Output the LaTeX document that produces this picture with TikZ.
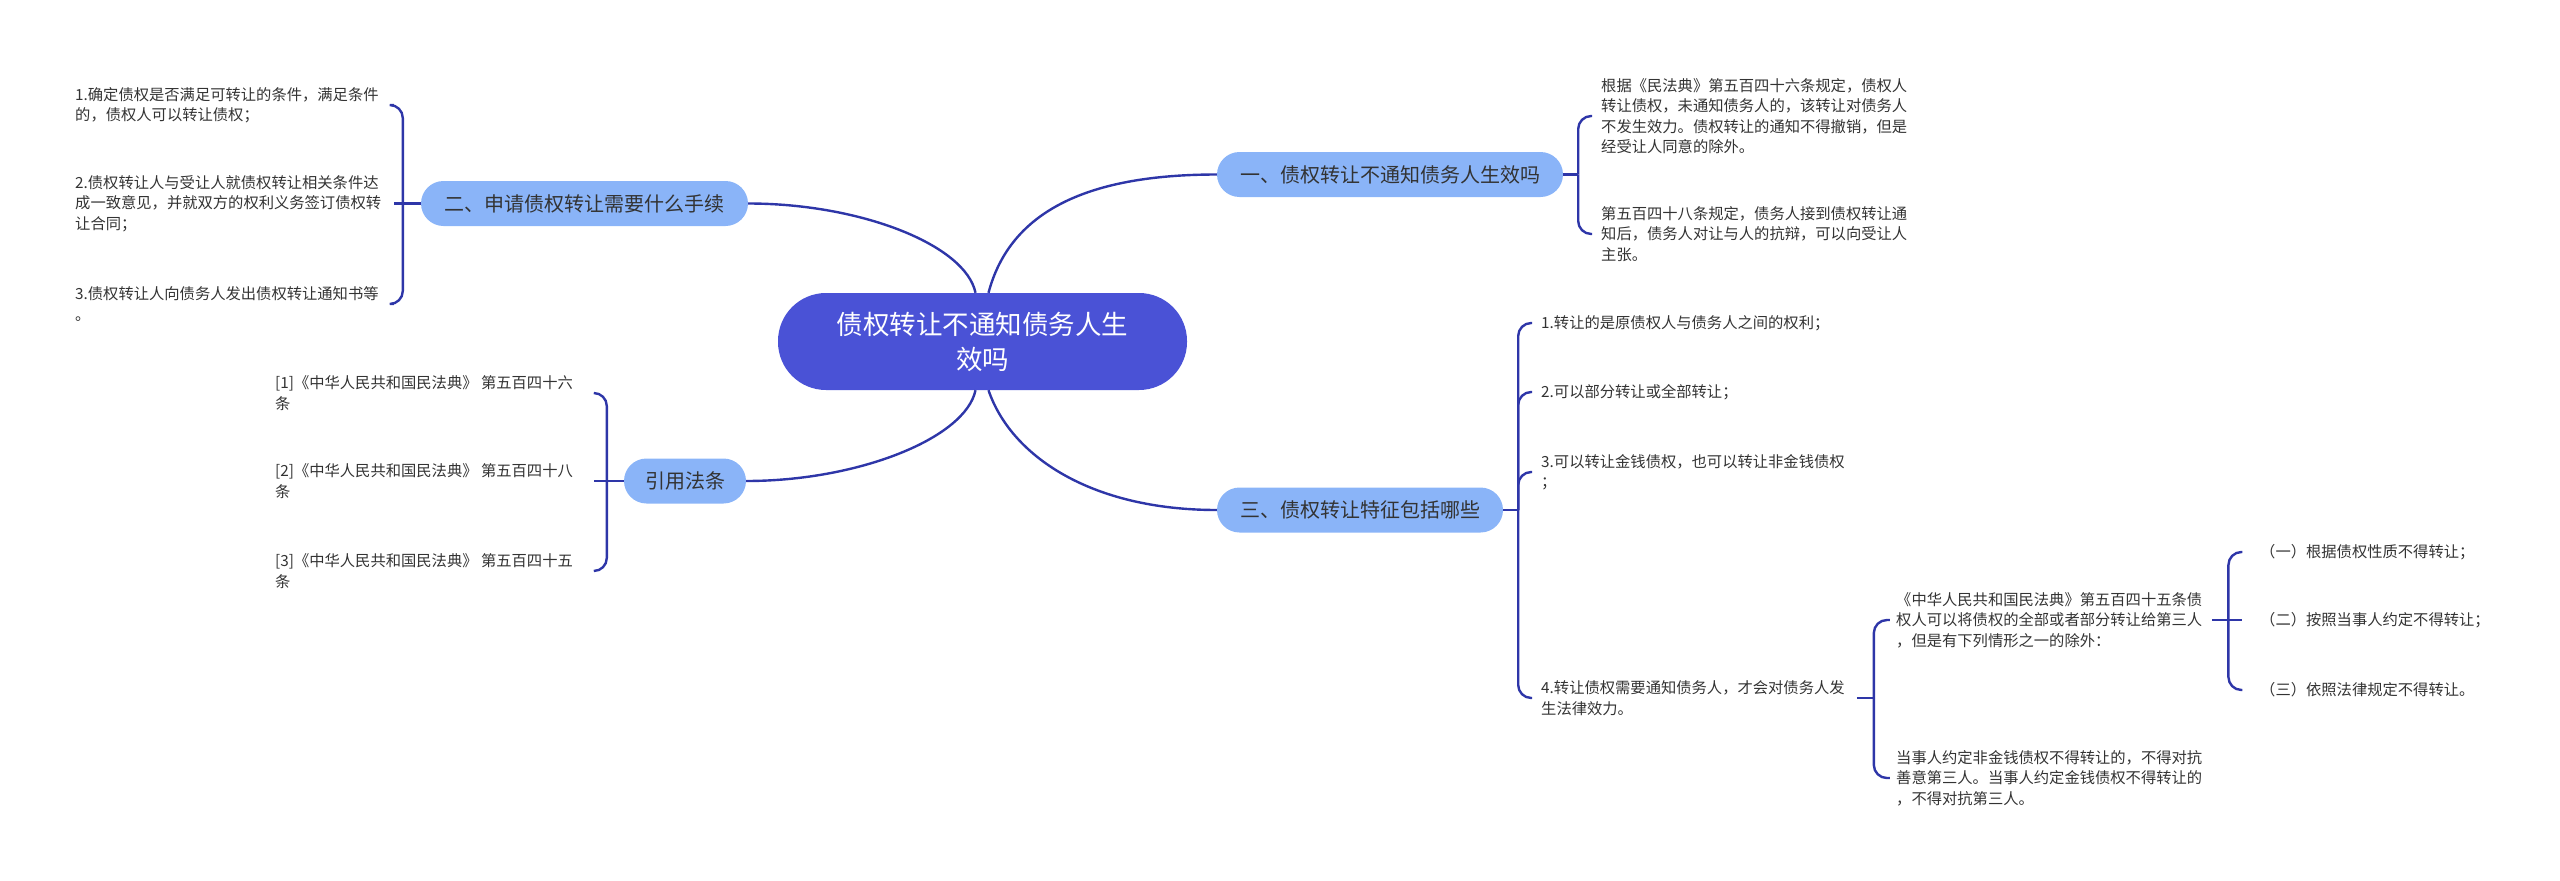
\documentclass[tikz,border=0pt]{standalone}
\usepackage{fontspec}
\newfontfamily\cjk{Noto Sans CJK SC}
\usetikzlibrary{calc}
\definecolor{ctrfill}{HTML}{4A52D6}
\definecolor{brfill}{HTML}{8AB4F8}
\definecolor{linec}{HTML}{2E36A8}
\definecolor{txt}{HTML}{333333}
\tikzset{
 ctrnode/.style={fill=ctrfill, rounded corners=48pt, minimum width=409pt, minimum height=97pt, text=white, align=center, font=\cjk\fontsize{26.5}{35}\selectfont, inner sep=0pt},
 brnode/.style={fill=brfill, rounded corners=22.5pt, minimum height=45pt, text=txt, font=\cjk\fontsize{20}{24}\selectfont, inner sep=0pt},
 leaf/.style={anchor=west, align=left, inner sep=0pt, text=txt, font=\cjk\fontsize{15.3}{20.5}\selectfont},
 conn/.style={draw=linec, line width=2.4pt},
 brk/.style={conn, rounded corners=13pt}
}
\begin{document}
\begin{tikzpicture}[x=1pt,y=-1pt]
\useasboundingbox (0,0) rectangle (2560,881);

% center and branches
\node[ctrnode] (ctr) at (982.5,341.5) {债权转让不通知债务人生\\效吗};
\node[brnode, minimum width=346pt] (b1) at (1390,174.5) {一、债权转让不通知债务人生效吗};
\node[brnode, minimum width=327pt] (b2) at (584.5,203.5) {二、申请债权转让需要什么手续};
\node[brnode, minimum width=122pt] (b3) at (685,481) {引用法条};
\node[brnode, minimum width=286pt] (b4) at (1360,510) {三、债权转让特征包括哪些};

% leaves of b1
\node[leaf] (c1a) at (1601,116) {根据《民法典》第五百四十六条规定，债权人\\转让债权，未通知债务人的，该转让对债务人\\不发生效力。债权转让的通知不得撤销，但是\\经受让人同意的除外。};
\node[leaf] (c1b) at (1601,234) {第五百四十八条规定，债务人接到债权转让通\\知后，债务人对让与人的抗辩，可以向受让人\\主张。};

% leaves of b2
\node[leaf] (c2a) at (75,105) {1.确定债权是否满足可转让的条件，满足条件\\的，债权人可以转让债权；};
\node[leaf] (c2b) at (75,203.5) {2.债权转让人与受让人就债权转让相关条件达\\成一致意见，并就双方的权利义务签订债权转\\让合同；};
\node[leaf] (c2c) at (75,304) {3.债权转让人向债务人发出债权转让通知书等\\。};

% leaves of b3
\node[leaf] (c3a) at (275,393) {[1]《中华人民共和国民法典》 第五百四十六\\条};
\node[leaf] (c3b) at (275,481) {[2]《中华人民共和国民法典》 第五百四十八\\条};
\node[leaf] (c3c) at (275,571) {[3]《中华人民共和国民法典》 第五百四十五\\条};

% leaves of b4
\node[leaf] (c4a) at (1541,323) {1.转让的是原债权人与债务人之间的权利；};
\node[leaf] (c4b) at (1541,392) {2.可以部分转让或全部转让；};
\node[leaf] (c4c) at (1541,472) {3.可以转让金钱债权，也可以转让非金钱债权\\；};
\node[leaf] (c4d) at (1541,698) {4.转让债权需要通知债务人，才会对债务人发\\生法律效力。};

% children of c4d
\node[leaf] (d1) at (1896,620) {《中华人民共和国民法典》第五百四十五条债\\权人可以将债权的全部或者部分转让给第三人\\，但是有下列情形之一的除外：};
\node[leaf] (d2) at (1896,778) {当事人约定非金钱债权不得转让的，不得对抗\\善意第三人。当事人约定金钱债权不得转让的\\，不得对抗第三人。};

% children of d1
\node[leaf] (e1) at (2260,552) {（一）根据债权性质不得转让；};
\node[leaf] (e2) at (2260,620) {（二）按照当事人约定不得转让；};
\node[leaf] (e3) at (2260,690) {（三）依照法律规定不得转让。};

% center connectors
\draw[conn] ([xshift=6pt]ctr.north) .. controls ($([xshift=6pt]ctr.north)+(22,-83)$) and ($(b1.west)+(-127,0)$) .. (b1.west);
\draw[conn] ([xshift=-7pt]ctr.north) .. controls ($([xshift=-7pt]ctr.north)+(-10,-48)$) and ($(b2.east)+(112,0)$) .. (b2.east);
\draw[conn] ([xshift=-7pt]ctr.south) .. controls ($([xshift=-7pt]ctr.south)+(-10,48)$) and ($(b3.east)+(112,0)$) .. (b3.east);
\draw[conn] ([xshift=6pt]ctr.south) .. controls ($([xshift=6pt]ctr.south)+(22,65)$) and ($(b4.west)+(-127,0)$) .. (b4.west);

% bracket b1
\coordinate (b1j) at ($(b1.east)+(15,0)$);
\coordinate (b1e) at ($(b1.east)+(29,0)$);
\draw[conn] (b1.east) -- (b1j);
\draw[brk] (b1j) |- (c1a.west -| b1e);
\draw[brk] (b1j) |- (c1b.west -| b1e);

% bracket b2
\coordinate (b2j) at ($(b2.west)+(-18,0)$);
\coordinate (b2e) at ($(b2.west)+(-27,0)$);
\draw[conn] (b2.west) -- (c2b.east -| b2e);
\draw[brk] (b2j) |- (c2a.east -| b2e);
\draw[brk] (b2j) |- (c2c.east -| b2e);

% bracket b3
\coordinate (b3j) at ($(b3.west)+(-17,0)$);
\coordinate (b3e) at ($(b3.west)+(-30,0)$);
\draw[conn] (b3.west) -- (c3b.east -| b3e);
\draw[brk] (b3j) |- (c3a.east -| b3e);
\draw[brk] (b3j) |- (c3c.east -| b3e);

% bracket b4
\coordinate (b4j) at ($(b4.east)+(15,0)$);
\coordinate (b4e) at ($(b4.east)+(29,0)$);
\draw[conn] (b4.east) -- (b4j);
\draw[brk] (b4j) |- (c4a.west -| b4e);
\draw[brk] (b4j) |- (c4b.west -| b4e);
\draw[brk] (b4j) |- (c4c.west -| b4e);
\draw[brk] (b4j) |- (c4d.west -| b4e);

% bracket c4d
\coordinate (c4ds) at ($(c4d.east)+(12,0)$);
\coordinate (c4dj) at ($(c4d.east)+(29,0)$);
\coordinate (c4de) at ($(c4d.east)+(45,0)$);
\draw[conn] (c4ds) -- (c4dj);
\draw[brk] (c4dj) |- (d1.west -| c4de);
\draw[brk] (c4dj) |- (d2.west -| c4de);

% bracket d1
\coordinate (d1s) at ($(d1.east)+(10,0)$);
\coordinate (d1j) at ($(d1.east)+(26,0)$);
\coordinate (d1e) at ($(d1.east)+(40,0)$);
\draw[conn] (d1s) -- (e2.west -| d1e);
\draw[brk] (d1j) |- (e1.west -| d1e);
\draw[brk] (d1j) |- (e3.west -| d1e);
\end{tikzpicture}
\end{document}
